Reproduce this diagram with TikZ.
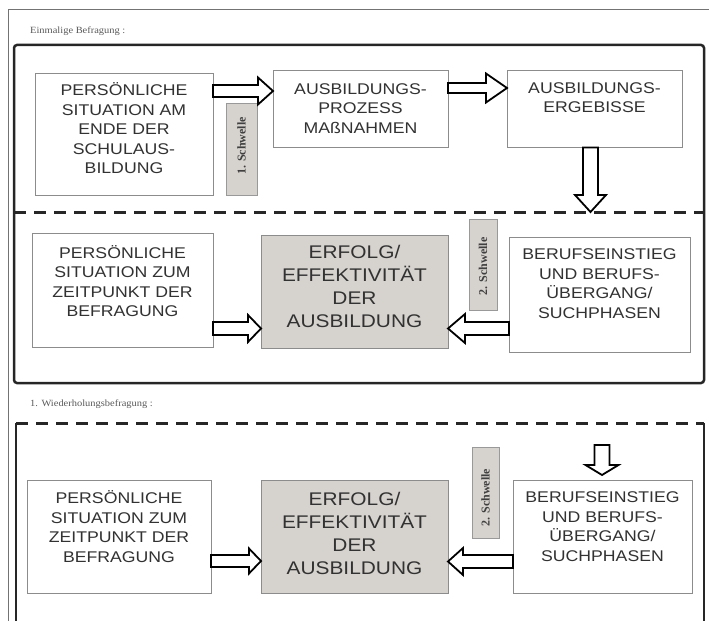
\documentclass[tikz,border=0pt]{standalone}
\usepackage{fontspec}
\setmainfont{Liberation Serif}
\newfontfamily\boxfont[FakeStretch=1.14]{Liberation Sans}
\newfontfamily\titlefont[FakeStretch=1.1]{Liberation Serif}
\usetikzlibrary{calc}
\definecolor{boxgrey}{RGB}{214,210,206}
\definecolor{txtgrey}{RGB}{50,50,50}
\newcommand\mkbox[6]{% style, name, x1, y1, x2, y2
  \node[#1, anchor=north west, minimum width={(#5-#3)*1bp}, minimum height={(#6-#4)*1bp}] (#2) at (#3,#4) {};}
% horizontal block arrow: from node east to node west (rightwards)
\newcommand\rarrow[6]{% from, to, yc, shaft half, head half, head length
  \coordinate (ta) at (#1.east |- 0,#3);
  \coordinate (tb) at (#2.west |- 0,#3);
  \draw[blockarrow] ($(ta)+(0,-#4)$) -- ($(tb)+(-#6,-#4)$) -- ($(tb)+(-#6,-#5)$) -- (tb)
    -- ($(tb)+(-#6,#5)$) -- ($(tb)+(-#6,#4)$) -- ($(ta)+(0,#4)$) -- cycle;}
\newcommand\larrow[6]{% from node west to node east (leftwards)
  \coordinate (ta) at (#1.west |- 0,#3);
  \coordinate (tb) at (#2.east |- 0,#3);
  \draw[blockarrow] ($(ta)+(0,-#4)$) -- ($(tb)+(#6,-#4)$) -- ($(tb)+(#6,-#5)$) -- (tb)
    -- ($(tb)+(#6,#5)$) -- ($(tb)+(#6,#4)$) -- ($(ta)+(0,#4)$) -- cycle;}
\newcommand\darrow[5]{% tail coord, tip coord, shaft half, head half, head length
  \draw[blockarrow] ($(#1)+(-#3,0)$) -- ($(#2)+(-#3,-#5)$) -- ($(#2)+(-#4,-#5)$) -- (#2)
    -- ($(#2)+(#4,-#5)$) -- ($(#2)+(#3,-#5)$) -- ($(#1)+(#3,0)$) -- cycle;}
\begin{document}
\begin{tikzpicture}[x=1bp,y=-1bp,
  box/.style={draw=black!45, line width=0.8bp, fill=white, inner sep=0pt, outer sep=0pt},
  greybox/.style={draw=black!45, line width=0.8bp, fill=boxgrey, inner sep=0pt, outer sep=0pt},
  schw/.style={draw=black!40, line width=0.8bp, fill=boxgrey, inner sep=0pt, outer sep=0pt},
  txt/.style={font=\boxfont\fontsize{15.5bp}{19.5bp}\selectfont, text=txtgrey, align=center, inner sep=0pt},
  bigtxt/.style={font=\boxfont\fontsize{18.3bp}{23bp}\selectfont, text=txtgrey, align=center, inner sep=0pt},
  schwtxt/.style={font=\bfseries\fontsize{12bp}{14bp}\selectfont, text=black!75, rotate=90, inner sep=0pt},
  titletxt/.style={font=\titlefont\fontsize{9.5bp}{11bp}\selectfont, text=black!65, anchor=west, inner sep=0pt},
  blockarrow/.style={draw=black, line width=1.8bp, fill=white, line join=miter},
  frame/.style={draw=black!85, line width=2.5bp},
  dashline/.style={draw=black!85, line width=3bp, dash pattern=on 12bp off 8bp}]
\useasboundingbox (0,0) rectangle (709,621);
% outer page frame
\draw[black!55, line width=1bp] (8,621) -- (8,10) -- (709,10);
% titles
\node[titletxt] (t1) at (30,31) {Einmalige Befragung :};
\node[titletxt] (t2) at (30,404) {1. Wiederholungsbefragung :};
% top section frame
\draw[frame, rounded corners=3bp] (14,45) rectangle (704,383);
\draw[dashline] (14,212) -- (704,212);
% bottom section frame
\draw[dashline] (16,423) -- (704,423);
\draw[frame] (16,423) -- (16,621);
\draw[frame] (704,423) -- (704,621);

% ---- top section, upper row
\mkbox{box}{A}{35}{73}{213}{195}
\node[txt] (At) at (A.center |- 0,128.5) {PERSÖNLICHE\\SITUATION AM\\ENDE DER\\SCHULAUS-\\BILDUNG};
\mkbox{schw}{S1}{226}{103}{257}{195}
\node[schwtxt] (S1t) at ($(S1.center)+(0,-3)$) {1. Schwelle};
\mkbox{box}{B}{273}{70}{448}{147}
\node[txt] (Bt) at (B.center |- 0,108.5) {AUSBILDUNGS-\\PROZESS\\MAßNAHMEN};
\mkbox{box}{C}{507}{70}{682}{147}
\node[txt] (Ct) at (C.center |- 0,97.5) {AUSBILDUNGS-\\ERGEBISSE};
\rarrow{A}{B}{91}{6}{13.5}{15}
\rarrow{B}{C}{88}{5}{14.5}{21}
\coordinate (c1) at (590.5,147.5);
\coordinate (c2) at (590.5,212);
\darrow{c1}{c2}{7.5}{15.5}{17}

% ---- top section, lower row
\mkbox{box}{D}{32}{233}{213}{347}
\node[txt] (Dt) at (D.center |- 0,281) {PERSÖNLICHE\\SITUATION ZUM\\ZEITPUNKT DER\\BEFRAGUNG};
\mkbox{greybox}{E}{261}{235}{448}{348}
\node[bigtxt] (Et) at (E.center |- 0,286.5) {ERFOLG/\\EFFEKTIVITÄT\\DER\\AUSBILDUNG};
\mkbox{schw}{S2}{469}{219}{497}{310}
\node[schwtxt] (S2t) at ($(S2.center)+(0,2)$) {2. Schwelle};
\mkbox{box}{F}{509}{237}{690}{352}
\node[txt] (Ft) at (F.center |- 0,283.5) {BERUFSEINSTIEG\\UND BERUFS-\\ÜBERGANG/\\SUCHPHASEN};
\rarrow{D}{E}{328.5}{6.5}{13.5}{13}
\larrow{F}{E}{328.5}{6.5}{14.5}{17}

% ---- bottom section
\mkbox{box}{D2}{27}{480}{211}{593}
\node[txt] (D2t) at (D2.center |- 0,526.5) {PERSÖNLICHE\\SITUATION ZUM\\ZEITPUNKT DER\\BEFRAGUNG};
\mkbox{greybox}{E2}{261}{480}{448}{593}
\node[bigtxt] (E2t) at (E2.center |- 0,533.5) {ERFOLG/\\EFFEKTIVITÄT\\DER\\AUSBILDUNG};
\mkbox{schw}{S3}{472}{447}{499}{538}
\node[schwtxt] (S3t) at ($(S3.center)+(0,5)$) {2. Schwelle};
\mkbox{box}{F2}{513}{480}{692}{593}
\node[txt] (F2t) at (F2.center |- 0,526.5) {BERUFSEINSTIEG\\UND BERUFS-\\ÜBERGANG/\\SUCHPHASEN};
\rarrow{D2}{E2}{561}{6}{12.5}{12}
\larrow{F2}{E2}{561.5}{6.5}{13.5}{15}
\coordinate (c3) at (602,445);
\coordinate (c4) at ($(602,0 |- F2.north)+(0,-5)$);
\darrow{c3}{c4}{7.5}{16.5}{10}
\end{tikzpicture}
\end{document}
